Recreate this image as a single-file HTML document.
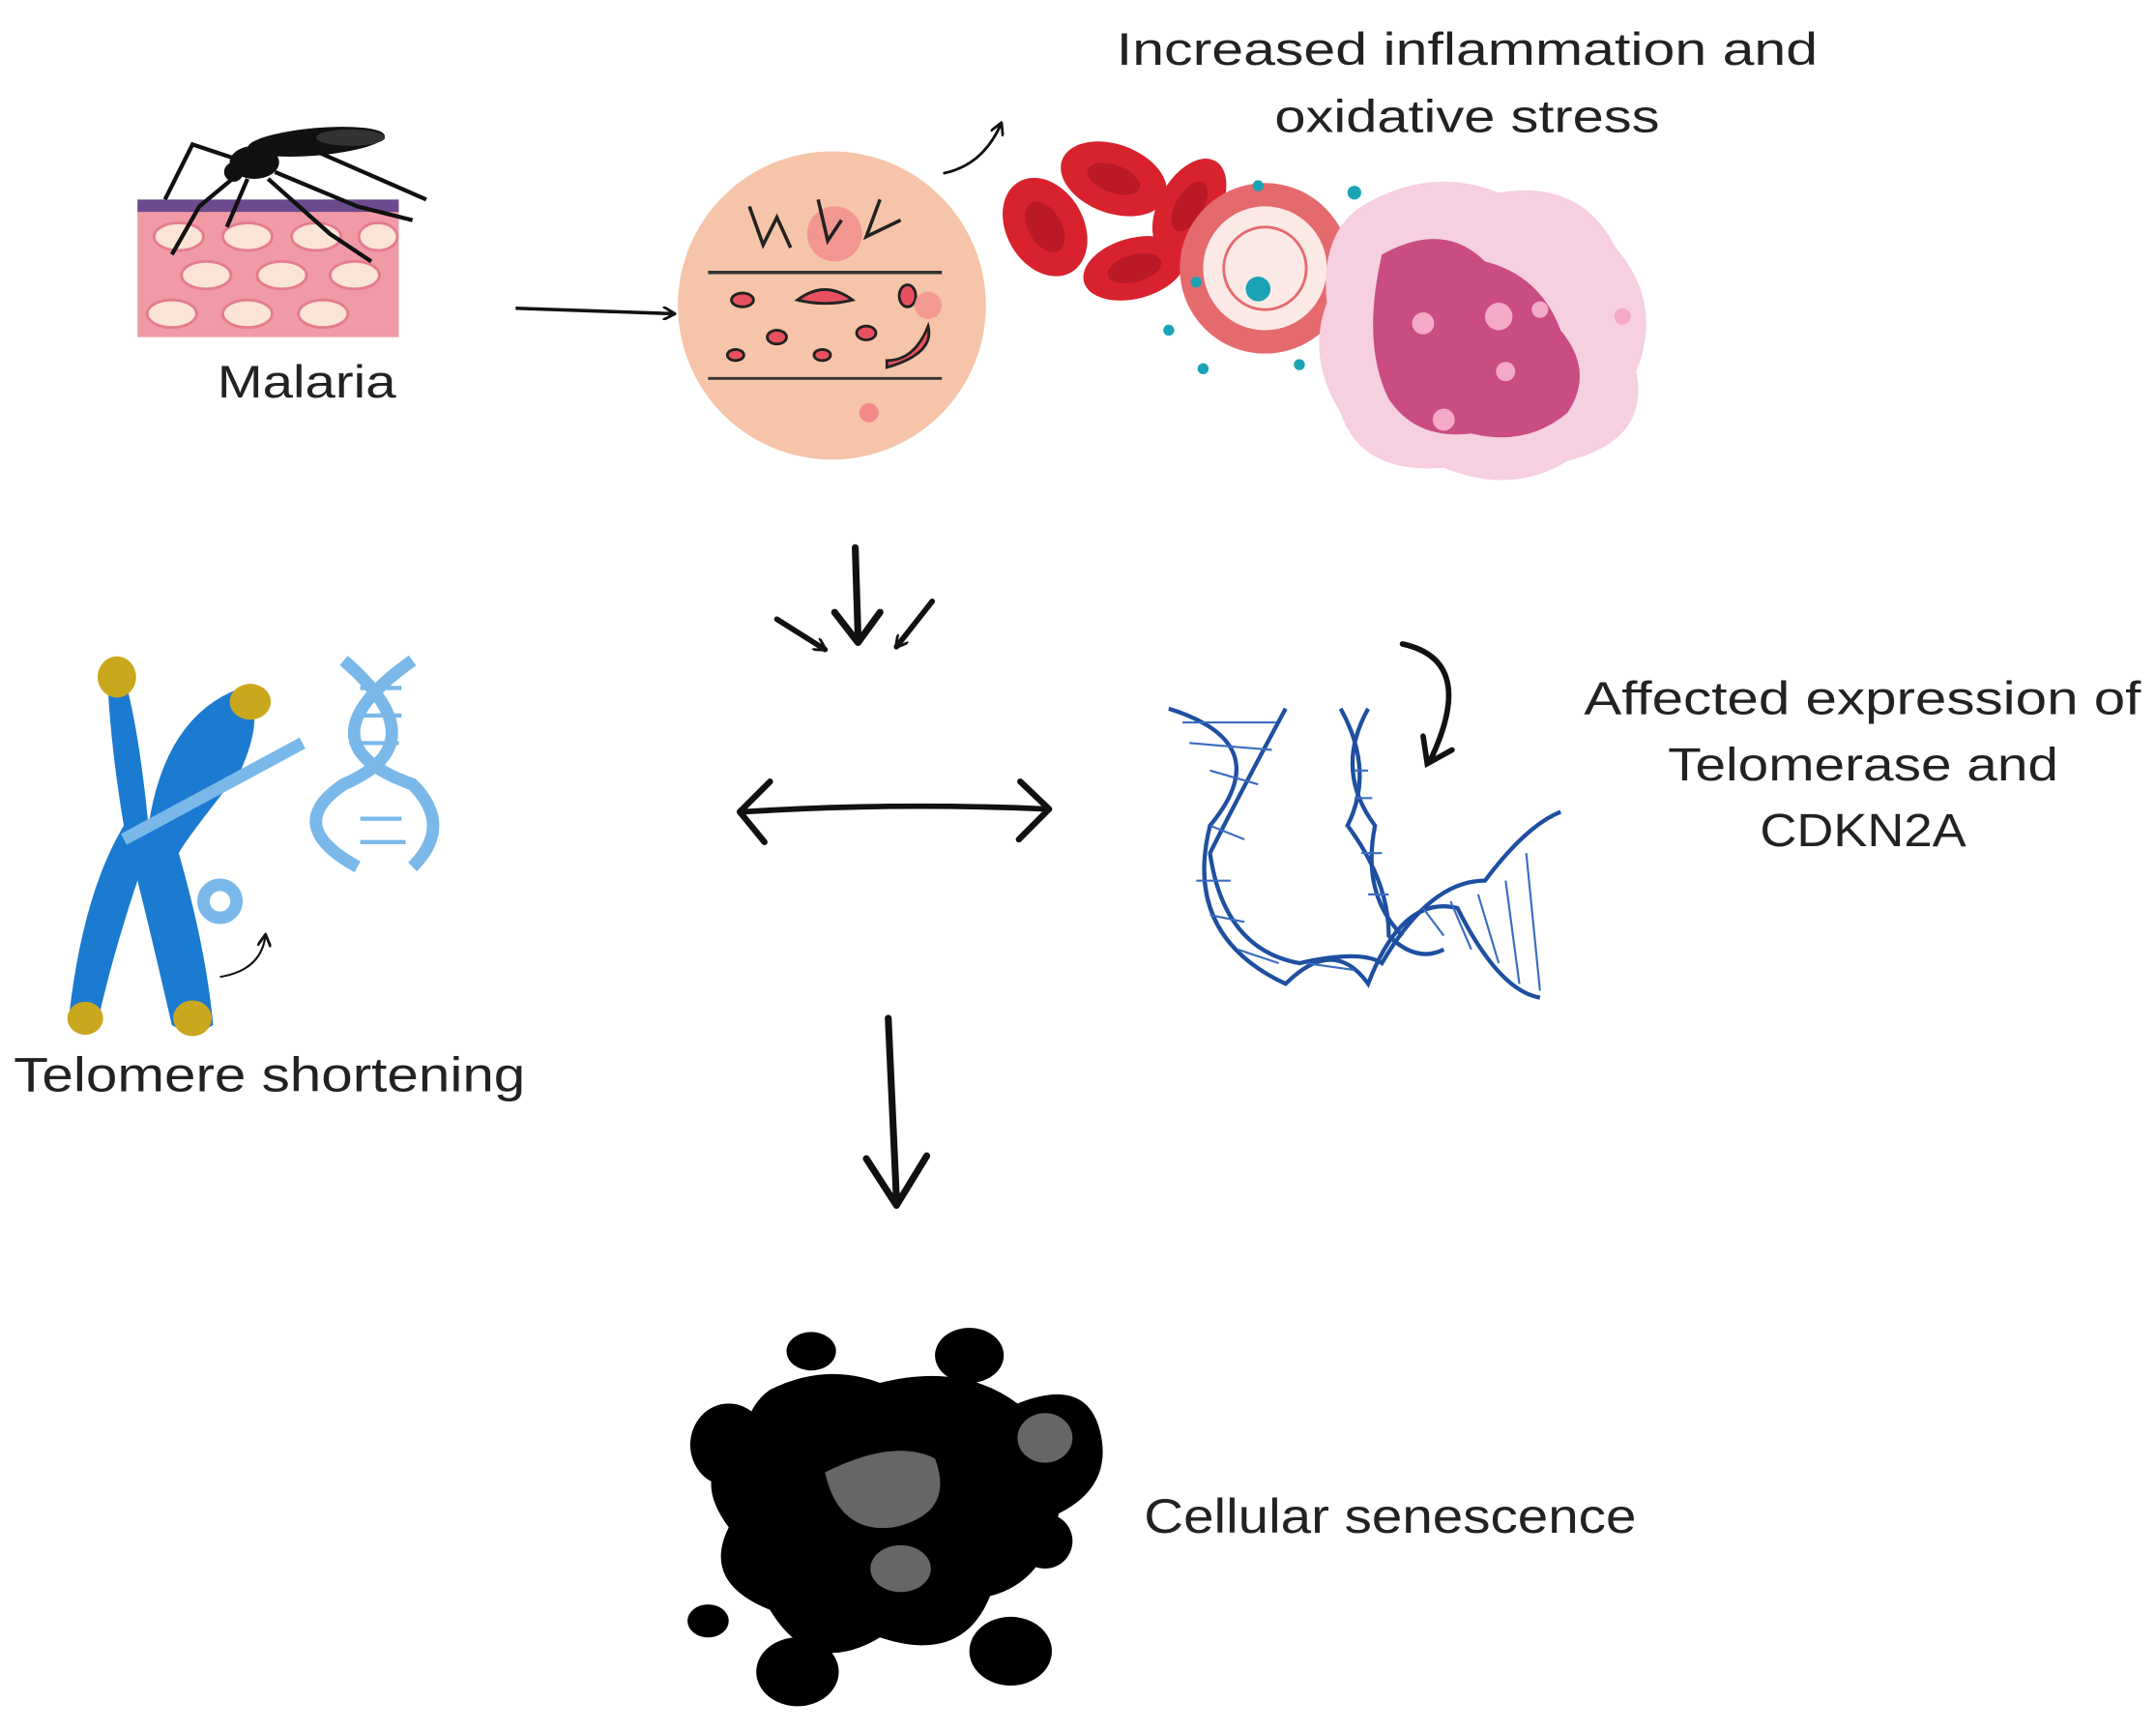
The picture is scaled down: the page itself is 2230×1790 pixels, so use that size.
<!DOCTYPE html>
<html><head><meta charset="utf-8"><style>
html,body{margin:0;padding:0;background:#fff;}
svg{display:block;}
text{font-family:"Liberation Sans","DejaVu Sans",sans-serif;fill:#222;}
</style></head><body>
<svg width="2230" height="1790" viewBox="0 0 1568 1258" preserveAspectRatio="none" xmlns="http://www.w3.org/2000/svg">
<defs>
<marker id="ah" markerWidth="10" markerHeight="10" refX="8" refY="5" orient="auto" markerUnits="userSpaceOnUse"><path d="M0,0 L9,5 L0,10" fill="none" stroke="#111" stroke-width="2"/></marker>
</defs>
<rect width="1568" height="1258" fill="#fff"/>
<!-- texts -->
<text x="812" y="47" font-size="33" textLength="510" lengthAdjust="spacingAndGlyphs">Increased inflammation  and</text>
<text x="927" y="96" font-size="33" textLength="280" lengthAdjust="spacingAndGlyphs">oxidative stress</text>
<text x="158" y="289" font-size="33" textLength="130" lengthAdjust="spacingAndGlyphs">Malaria</text>
<text x="10" y="793" font-size="35" textLength="372" lengthAdjust="spacingAndGlyphs">Telomere shortening</text>
<text x="1152" y="519" font-size="34" textLength="405" lengthAdjust="spacingAndGlyphs">Affected expression of</text>
<text x="1213" y="567" font-size="34" textLength="284" lengthAdjust="spacingAndGlyphs">Telomerase and</text>
<text x="1280" y="615" font-size="34" textLength="150" lengthAdjust="spacingAndGlyphs">CDKN2A</text>
<text x="832" y="1114" font-size="35" textLength="358" lengthAdjust="spacingAndGlyphs">Cellular senescence</text>

<!-- skin -->
<rect x="100" y="150" width="190" height="95" fill="#f09aa6"/>
<rect x="100" y="145" width="190" height="9" fill="#6b4a8e"/>
<g fill="#fbe3d6" stroke="#e47c8c" stroke-width="2">
<ellipse cx="130" cy="172" rx="18" ry="10"/><ellipse cx="180" cy="172" rx="18" ry="10"/><ellipse cx="230" cy="172" rx="18" ry="10"/><ellipse cx="275" cy="172" rx="14" ry="10"/>
<ellipse cx="150" cy="200" rx="18" ry="10"/><ellipse cx="205" cy="200" rx="18" ry="10"/><ellipse cx="258" cy="200" rx="18" ry="10"/>
<ellipse cx="125" cy="228" rx="18" ry="10"/><ellipse cx="180" cy="228" rx="18" ry="10"/><ellipse cx="235" cy="228" rx="18" ry="10"/>
</g>
<!-- mosquito -->
<g stroke="#111" stroke-width="3" fill="none">
<path d="M175,125 L145,150 L125,185"/><path d="M180,130 L165,165"/><path d="M195,130 L240,170 L270,190"/><path d="M200,125 L260,150 L300,160"/><path d="M185,120 L140,105 L120,145"/><path d="M230,110 L310,145"/>
</g>
<ellipse cx="230" cy="103" rx="50" ry="10" fill="#111" transform="rotate(-5 230 103)"/>
<ellipse cx="185" cy="118" rx="18" ry="12" fill="#111"/>
<circle cx="170" cy="125" r="7" fill="#111"/>
<ellipse cx="255" cy="100" rx="25" ry="6" fill="#333"/>

<!-- arrow malaria -->
<path d="M375,224 L490,228" stroke="#111" stroke-width="2.5" fill="none" marker-end="url(#ah)"/>
<!-- circle -->
<circle cx="605" cy="222" r="112" fill="#f6c4a8"/>
<line x1="515" y1="198" x2="685" y2="198" stroke="#333" stroke-width="2.5"/>
<line x1="515" y1="275" x2="685" y2="275" stroke="#333" stroke-width="2"/>
<circle cx="607" cy="170" r="20" fill="#f28a8a" opacity=".8"/>
<path d="M545,150 L555,178 L565,158 L575,180 M595,145 L602,175 L612,160 M640,145 L630,172 L655,160" stroke="#222" stroke-width="2.5" fill="none"/>
<g fill="#e8505f" stroke="#222" stroke-width="2">
<path d="M580,218 q20,-15 40,0 q-20,5 -40,0z"/><ellipse cx="540" cy="218" rx="8" ry="5"/><ellipse cx="660" cy="215" rx="6" ry="8"/><ellipse cx="565" cy="245" rx="7" ry="5"/><ellipse cx="598" cy="258" rx="6" ry="4"/><ellipse cx="630" cy="242" rx="7" ry="5"/><path d="M645,262 q20,0 30,-25 q5,20 -30,30z"/><ellipse cx="535" cy="258" rx="6" ry="4"/>
</g>
<circle cx="632" cy="300" r="7" fill="#f28a8a"/><circle cx="675" cy="222" r="10" fill="#f28a8a" opacity=".7"/>
<path d="M686,126 Q715,120 728,90" stroke="#111" stroke-width="2" fill="none" marker-end="url(#ah)"/>

<!-- RBCs -->
<g fill="#d8222e">
<ellipse cx="760" cy="165" rx="28" ry="38" transform="rotate(-30 760 165)"/>
<ellipse cx="810" cy="130" rx="40" ry="25" transform="rotate(20 810 130)"/>
<ellipse cx="865" cy="150" rx="22" ry="38" transform="rotate(30 865 150)"/>
<ellipse cx="825" cy="195" rx="38" ry="22" transform="rotate(-15 825 195)"/>
</g>
<g fill="#a8141f" opacity=".6">
<ellipse cx="760" cy="165" rx="12" ry="20" transform="rotate(-30 760 165)"/>
<ellipse cx="810" cy="130" rx="20" ry="10" transform="rotate(20 810 130)"/>
<ellipse cx="865" cy="150" rx="10" ry="20" transform="rotate(30 865 150)"/>
<ellipse cx="825" cy="195" rx="20" ry="10" transform="rotate(-15 825 195)"/>
</g>
<!-- ring cell -->
<circle cx="920" cy="195" r="62" fill="#e56a6e"/>
<circle cx="920" cy="195" r="45" fill="#fbe9e6"/>
<circle cx="920" cy="195" r="30" fill="none" stroke="#e56a6e" stroke-width="2"/>
<circle cx="915" cy="210" r="9" fill="#1aa3b5"/>
<g fill="#1aa3b5"><circle cx="985" cy="140" r="5"/><circle cx="850" cy="240" r="4"/><circle cx="875" cy="268" r="4"/><circle cx="945" cy="265" r="4"/><circle cx="985" cy="250" r="4"/><circle cx="915" cy="135" r="4"/><circle cx="870" cy="205" r="4"/></g>
<!-- macrophage -->
<path d="M990,150 Q1040,120 1090,140 Q1150,130 1175,180 Q1210,220 1190,270 Q1200,320 1140,335 Q1100,360 1050,340 Q990,345 975,300 Q950,260 965,220 Q960,170 990,150z" fill="#f6cfe0"/>
<path d="M1005,185 Q1050,160 1080,190 Q1120,200 1135,240 Q1160,270 1140,300 Q1110,325 1070,315 Q1030,320 1010,290 Q990,250 1005,185z" fill="#c94d82"/>
<g fill="#f5a9c8"><circle cx="1035" cy="235" r="8"/><circle cx="1090" cy="230" r="10"/><circle cx="1120" cy="225" r="6"/><circle cx="1180" cy="230" r="6"/><circle cx="1050" cy="305" r="8"/><circle cx="1095" cy="270" r="7"/></g>

<!-- three arrows -->
<path d="M622,398 L624,462" stroke="#111" stroke-width="5" fill="none" stroke-linecap="round"/>
<path d="M607,445 L624,467 L640,445" stroke="#111" stroke-width="5" fill="none" stroke-linecap="round" stroke-linejoin="round"/>
<path d="M565,450 L600,472" stroke="#111" stroke-width="4" fill="none" marker-end="url(#ah)" stroke-linecap="round"/>
<path d="M678,437 L652,470" stroke="#111" stroke-width="4" fill="none" marker-end="url(#ah)" stroke-linecap="round"/>
<!-- double arrow -->
<path d="M540,590 Q650,583 762,588" stroke="#111" stroke-width="4" fill="none"/>
<path d="M560,568 L538,590 L556,612 M742,568 L763,588 L741,610" stroke="#111" stroke-width="4.5" fill="none" stroke-linecap="round" stroke-linejoin="round"/>
<!-- down arrow -->
<path d="M646,740 L652,872" stroke="#111" stroke-width="5" fill="none" stroke-linecap="round"/>
<path d="M630,842 L652,876 L674,840" stroke="#111" stroke-width="5" fill="none" stroke-linecap="round" stroke-linejoin="round"/>
<!-- curved arrow right -->
<path d="M1020,468 Q1075,480 1040,553" stroke="#111" stroke-width="4" fill="none" stroke-linecap="round"/>
<path d="M1035,535 L1038,555 L1056,545" stroke="#111" stroke-width="4" fill="none" stroke-linecap="round"/>

<!-- chromosome -->
<path d="M88,485 Q100,520 108,600 Q120,520 175,500 Q195,515 175,560 Q135,610 130,620 Q150,690 155,745 Q140,755 125,745 Q110,680 100,640 Q80,700 70,748 Q55,752 50,740 Q60,650 90,600 Q80,540 78,490z" fill="#1b7bd0"/>
<ellipse cx="85" cy="492" rx="14" ry="15" fill="#c9a81e"/><ellipse cx="182" cy="510" rx="15" ry="13" fill="#c9a81e"/><ellipse cx="62" cy="740" rx="13" ry="12" fill="#c9a81e"/><ellipse cx="140" cy="740" rx="14" ry="13" fill="#c9a81e"/>
<g stroke="#7ab8ea" stroke-width="9" fill="none">
<path d="M250,480 Q320,540 250,570 Q205,600 260,630"/><path d="M300,480 Q215,540 300,570 Q330,600 300,630"/>
<path d="M90,610 L220,540"/><circle cx="160" cy="655" r="12"/>
</g>
<g stroke="#7ab8ea" stroke-width="3"><line x1="262" y1="500" x2="292" y2="500"/><line x1="260" y1="520" x2="292" y2="520"/><line x1="262" y1="540" x2="290" y2="540"/><line x1="262" y1="595" x2="292" y2="595"/><line x1="262" y1="612" x2="295" y2="612"/></g>
<path d="M160,710 Q190,705 193,680" stroke="#111" stroke-width="1.5" fill="none" marker-end="url(#ah)"/>

<!-- DNA strands -->
<g stroke="#1e4fa0" stroke-width="3" fill="none">
<path d="M850,515 Q930,540 880,600 Q860,680 935,715 Q970,680 995,715 Q1020,650 1060,660 Q1090,720 1120,725"/>
<path d="M935,515 Q900,580 880,620 Q890,690 945,700 Q990,690 1005,700 Q1040,640 1080,640 Q1110,600 1135,590"/>
<path d="M975,515 Q1000,560 980,600 Q1010,640 1010,680 Q1030,700 1050,690"/>
<path d="M995,515 Q970,560 1000,600 Q990,650 1020,680"/>
</g>
<g stroke="#3a6cc0" stroke-width="1.5">
<path d="M860,525 L928,525 M865,540 L925,545 M880,560 L915,570 M880,600 L905,610 M870,640 L895,640 M880,665 L905,670 M900,690 L930,700 M950,700 L985,705 M1035,660 L1050,680 M1055,655 L1070,690 M1075,650 L1090,700 M1095,640 L1105,715 M1110,620 L1120,720 M985,560 L995,560 M985,580 L998,580 M990,620 L1005,620 M995,650 L1010,650"/>
</g>

<!-- senescent blob -->
<g fill="#000">
<path d="M560,1010 Q600,990 640,1005 Q700,990 740,1020 Q790,1000 800,1040 Q810,1080 770,1100 Q760,1150 720,1160 Q700,1210 640,1190 Q590,1220 560,1170 Q510,1150 530,1110 Q500,1070 540,1045 Q545,1020 560,1010z"/>
<ellipse cx="590" cy="982" rx="18" ry="14"/><ellipse cx="705" cy="985" rx="25" ry="20"/><ellipse cx="530" cy="1050" rx="28" ry="30"/><ellipse cx="760" cy="1120" rx="20" ry="20"/><ellipse cx="515" cy="1178" rx="15" ry="12"/><ellipse cx="580" cy="1215" rx="30" ry="25"/><ellipse cx="735" cy="1200" rx="30" ry="25"/>
</g>
<g fill="#666"><path d="M600,1070 Q650,1045 680,1060 Q695,1100 650,1110 Q610,1115 600,1070z"/><ellipse cx="760" cy="1045" rx="20" ry="18"/><ellipse cx="655" cy="1140" rx="22" ry="17"/></g>
</svg>
</body></html>
